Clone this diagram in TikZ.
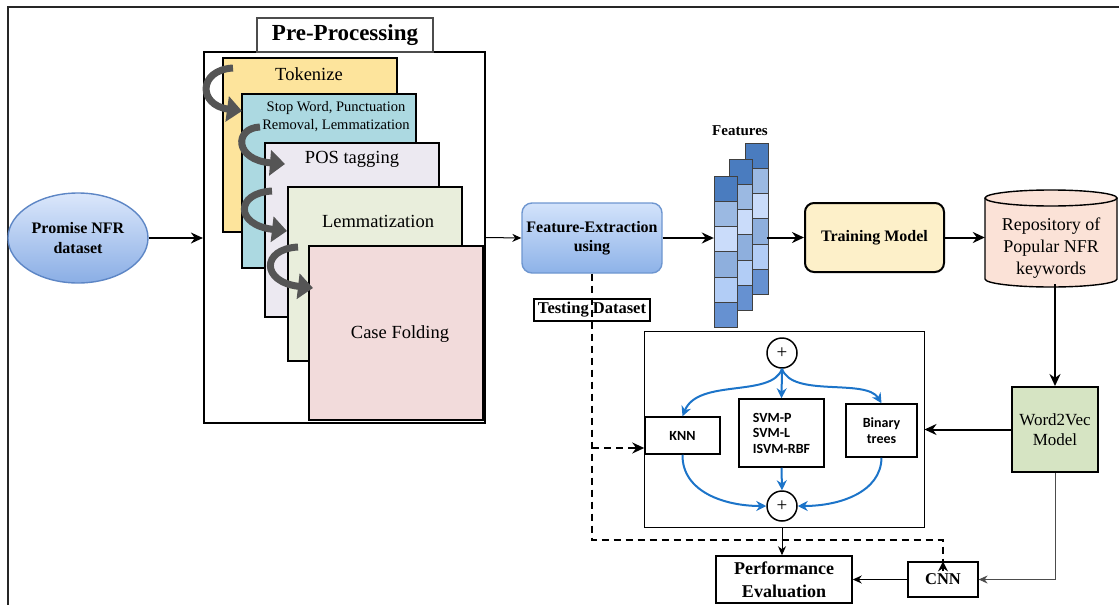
\documentclass[tikz,border=0pt]{standalone}
\usepackage{fontspec}
\setmainfont{Liberation Serif}
\newfontfamily\carl{Carlito}
\usetikzlibrary{arrows.meta,shapes.geometric,calc}
\definecolor{dstop}{HTML}{DBE7FB}
\definecolor{dsbot}{HTML}{8AAEE5}
\definecolor{dsborder}{HTML}{5D86C5}
\definecolor{fetop}{HTML}{D3E3FB}
\definecolor{febot}{HTML}{8DB2E8}
\definecolor{feborder}{HTML}{6E96D0}
\definecolor{ctok}{HTML}{FDE49C}
\definecolor{csw}{HTML}{ACD9E1}
\definecolor{cpos}{HTML}{ECE9F1}
\definecolor{clem}{HTML}{E9EEDC}
\definecolor{ccf}{HTML}{F2DBDB}
\definecolor{tmfill}{HTML}{FDF0C9}
\definecolor{repofill}{HTML}{FBE2D7}
\definecolor{wvfill}{HTML}{D6E4C3}
\definecolor{clsblue}{HTML}{1C74C9}
\definecolor{curvgray}{HTML}{555555}
\definecolor{fca}{HTML}{4A7CBF}
\definecolor{fcb}{HTML}{9BB9E2}
\definecolor{fcc}{HTML}{CADCFA}
\definecolor{fcd}{HTML}{8EAFDD}
\definecolor{fce}{HTML}{B2CDF6}
\definecolor{fcf}{HTML}{6691D1}
\tikzset{
  card/.style={draw, line width=1.8pt, minimum width=174pt, minimum height=174pt, inner sep=0, anchor=north west},
  cardtxt/.style={font=\fontsize{18.5}{20}\selectfont, inner sep=0},
  curv/.style={draw=curvgray, line width=7pt, -{Triangle[length=15pt,width=25pt]}},
  thickarrow/.style={line width=2pt, -{Stealth[length=12pt,width=11pt]}},
  thinarrow/.style={line width=1pt, -{Stealth[length=9pt,width=8pt]}},
  dsh/.style={line width=2.2pt, dash pattern=on 7pt off 5pt},
  clsbox/.style={draw, line width=1.5pt, inner sep=0, align=center, font=\carl\bfseries\fontsize{14}{15.5}\selectfont},
  blarrow/.style={draw=clsblue, line width=2pt, -{Stealth[length=10pt,width=10pt]}},
  plusc/.style={circle, draw, line width=1.5pt, minimum size=30pt, inner sep=0, font=\fontsize{19}{19}\selectfont}
}
\begin{document}
\begin{tikzpicture}[x=1pt,y=-1pt]
\useasboundingbox (0,0) rectangle (1119,605);
% outer frame
\draw[line width=1.6pt, black!85] (8,605) -- (8,7) -- (1119,7);

% dataset
\node[ellipse, draw=dsborder, line width=1.4pt, top color=dstop, bottom color=dsbot,
  minimum width=140pt, minimum height=90pt, inner sep=0, align=center,
  font=\bfseries\fontsize{16}{20}\selectfont] (ds) at (78,238) {Promise NFR\\dataset};

% pre-processing
\node[draw, line width=2.2pt, minimum width=281pt, minimum height=371pt, inner sep=0] (pp) at (344.5,237.5) {};
\node[draw=black!70, line width=1.1pt, fill=white, minimum width=176pt, minimum height=34pt, inner sep=0,
  font=\bfseries\fontsize{23}{24}\selectfont] (ttl) at (345,35) {Pre-Processing};

\node[card, fill=ctok] (c1) at (222,57) {};
\node[card, fill=csw] (c2) at (241,93) {};
\node[card, fill=cpos] (c3) at (264,142) {};
\node[card, fill=clem] (c4) at (287,186) {};
\node[card, fill=ccf, line width=2.2pt] (c5) at (308,245) {};

\node[cardtxt] (t1) at (309,74) {Tokenize};
\node[font=\fontsize{14.5}{18}\selectfont, align=center, inner sep=0] (t2) at (336,117) {Stop Word, Punctuation\\Removal, Lemmatization};
\node[cardtxt] (t3) at (352,159) {POS tagging};
\node[cardtxt] (t4) at (378,221) {Lemmatization};
\node[cardtxt] (t5) at (400,334) {Case Folding};

\draw[curv] (233,68) .. controls (198,70) and (198,105) .. (242,111);
\draw[curv] (260,127) .. controls (234,128) and (234,160) .. (285,164);
\draw[curv] (272,191) .. controls (235,193) and (235,225) .. (287,231);
\draw[curv] (298,247) .. controls (261,249) and (261,282) .. (313,288);

% feature extraction
\node[rounded corners=10pt, draw=feborder, line width=1.4pt, top color=fetop, bottom color=febot,
  minimum width=140pt, minimum height=70pt, inner sep=0, align=center,
  font=\bfseries\fontsize{16}{19}\selectfont] (fe) at (592,238) {Feature-Extraction\\using};

% features stack
\foreach \xo/\yo in {745/143, 729/159, 714/176}{
  \foreach \k/\cc in {0/fca,1/fcb,2/fcc,3/fcd,4/fce,5/fcf}{
    \filldraw[fill=\cc, draw=black!75, line width=0.9pt] (\xo,\yo+\k*25.3) rectangle ++(23,25.3);
  }
}
\node[minimum width=53pt, minimum height=185pt, inner sep=0] (feat) at (740.5,235.5) {};
\node[font=\bfseries\fontsize{15}{16}\selectfont, inner sep=0] (featlbl) at (740,131) {Features};

% training model
\node[rounded corners=9pt, draw, line width=2pt, fill=tmfill, minimum width=139pt, minimum height=69pt,
  inner sep=0, font=\bfseries\fontsize{16}{18}\selectfont] (tm) at (874.5,237.5) {Training Model};

% repository cylinder
\filldraw[fill=repofill, line width=1.4pt] (985,198) -- (985,279) arc[start angle=180, end angle=0, x radius=66, y radius=8] -- (1117,198);
\filldraw[fill=repofill, line width=1.4pt] (1051,198) ellipse [x radius=66, y radius=8];
\node[minimum width=132pt, minimum height=97pt, inner sep=0] (repo) at (1051,238.5) {};
\node[align=center, inner sep=0, font=\fontsize{18}{22}\selectfont] (repotxt) at (1051,248) {Repository of\\Popular NFR\\keywords};

% word2vec
\node[draw, line width=2pt, fill=wvfill, minimum width=86pt, minimum height=85pt, inner sep=0, align=center,
  font=\fontsize{17}{20}\selectfont] (w2v) at (1055,429.5) {Word2Vec\\Model};

% classifier block
\node[draw, line width=1pt, minimum width=280pt, minimum height=196pt, inner sep=0] (cls) at (784,429) {};
\node[plusc] (p1) at (782,353) {+};
\node[plusc] (p2) at (782,506) {+};
\node[clsbox, minimum width=75pt, minimum height=37pt] (knn) at (682.5,435.5) {KNN};
\node[clsbox, minimum width=85pt, minimum height=68pt, align=left] (svm) at (781.5,433) {SVM-P\\SVM-L\\ISVM-RBF};
\node[clsbox, minimum width=71pt, minimum height=53pt] (bt) at (881.5,430.5) {Binary\\trees};

\draw[blarrow] (p1.south) -- (svm.north);
\draw[blarrow] (p1.south) .. controls (772,398) and (698,378) .. (knn.north);
\draw[blarrow] (p1.south) .. controls (792,398) and (866,378) .. (bt.north);
\draw[blarrow] (svm.south) -- (p2.north);
\draw[blarrow] (knn.south) .. controls (682,492) and (725,506) .. (p2.west);
\draw[blarrow] (bt.south) .. controls (881,492) and (840,506) .. (p2.east);

% testing dataset label
\node[draw, line width=1.1pt, minimum width=116pt, minimum height=22pt, inner sep=0,
  font=\bfseries\fontsize{16.5}{18}\selectfont] (td) at (592,310) {Testing Dataset};

% performance evaluation and CNN
\node[draw, line width=1.5pt, minimum width=136pt, minimum height=47pt, inner sep=0, align=center,
  font=\bfseries\fontsize{18}{23}\selectfont] (pe) at (784,579.5) {Performance\\Evaluation};
\node[draw, line width=1.2pt, minimum width=70pt, minimum height=35pt, inner sep=0,
  font=\bfseries\fontsize{16.5}{18}\selectfont] (cnn) at (943,579.5) {CNN};

% connectors
\draw[thickarrow, line width=1.7pt] (ds.east) -- (pp.west |- ds.east);
\draw[thinarrow] (pp.east) -- (fe.west);
\draw[thickarrow] (fe.east) -- (feat.west |- fe.east);
\draw[thickarrow] (feat.east |- tm.west) -- (tm.west);
\draw[thickarrow] (tm.east) -- (repo.west |- tm.east);
\draw[thickarrow] ([yshift=3pt]repo.south -| w2v.north) -- (w2v.north);
\draw[thickarrow] (w2v.west) -- (cls.east |- w2v.west);

\coordinate (dc1) at (592,540);
\coordinate (dc2) at (943,540);
\coordinate (br) at (592,448);
\draw[dsh] (fe.south) -- (dc1) -- (dc2) -- ([yshift=-9pt]cnn.north);
\draw[line width=1.8pt, -{Stealth[length=10pt,width=10pt]}] ([yshift=-10pt]cnn.north) -- (cnn.north);
\draw[dsh] (br) -- ([xshift=-12pt]br -| knn.west);
\draw[line width=1.8pt, -{Stealth[length=12pt,width=11pt]}] ([xshift=-12pt]br -| knn.west) -- (br -| knn.west);

\draw[thinarrow] (p2 |- cls.south) -- (p2 |- pe.north);
\draw[thinarrow] (cnn.west) -- (pe.east);
\draw[thinarrow, draw=black!70] (w2v.south) -- (w2v.south |- cnn.east) -- (cnn.east);
\end{tikzpicture}
\end{document}
